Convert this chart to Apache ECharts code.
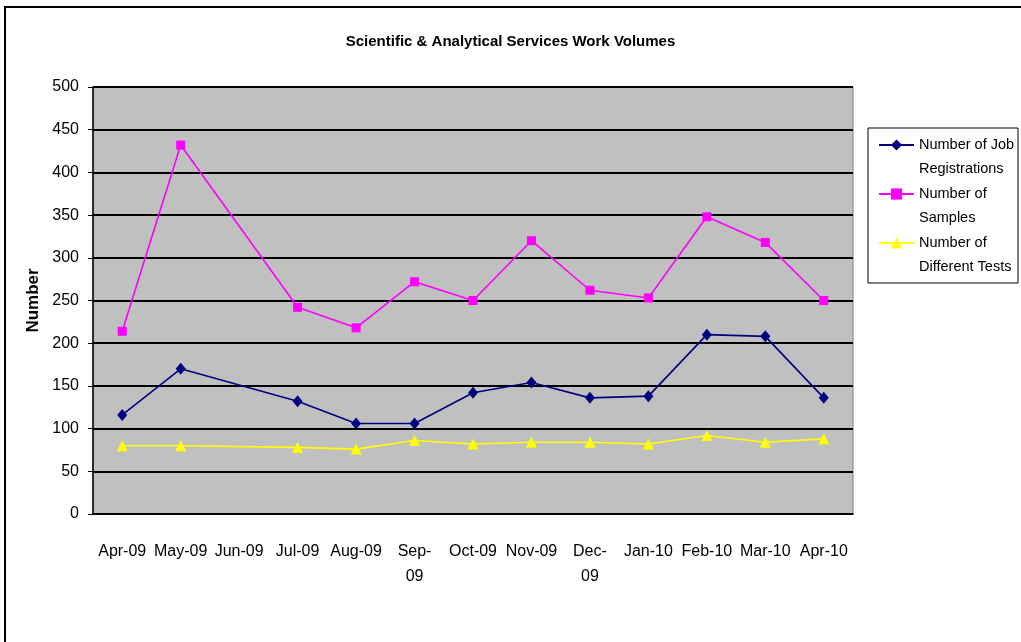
<!DOCTYPE html>
<html>
<head>
<meta charset="utf-8">
<script src="https://cdn.jsdelivr.net/npm/echarts@6/dist/echarts.min.js"></script>
<style>
  html, body { margin: 0; padding: 0; background: #fff; }
  #chart { width: 1021px; height: 642px; }
</style>
</head>
<body>
<div id="chart"></div>
<script>
const categories = ['Apr-09', 'May-09', 'Jun-09', 'Jul-09', 'Aug-09', 'Sep-09', 'Oct-09',
  'Nov-09', 'Dec-09', 'Jan-10', 'Feb-10', 'Mar-10', 'Apr-10']
const jobRegistrations = [116, 170, null, 132, 106, 106, 142, 154, 136, 138, 210, 208, 136]
const samples = [214, 432, null, 242, 218, 272, 250, 320, 262, 253, 348, 318, 250]
const differentTests = [80, 80, null, 78, 76, 86, 82, 84, 84, 82, 92, 84, 88]

const chart = echarts.init(document.getElementById('chart'))

const font = 'Liberation Sans, Arial, sans-serif'

function lineSeries(name, data, color, symbol, size) {
  return {
    name,
    type: 'line',
    data,
    connectNulls: true,
    symbol,
    symbolSize: size,
    showAllSymbol: true,
    lineStyle: { color, width: 1.6 },
    itemStyle: { color },
    emphasis: { disabled: true },
  }
}

chart.setOption({
  animation: false,
  textStyle: { fontFamily: font },
  title: {
    text: 'Scientific & Analytical Services Work Volumes',
    left: 'center',
    top: 29,
    textStyle: { fontSize: 15, fontWeight: 'bold', color: '#000', fontFamily: font },
  },
  graphic: [
    {
      type: 'rect',
      shape: { x: 5, y: 7, width: 1040, height: 660 },
      style: { fill: 'none', stroke: '#000', lineWidth: 2 },
      silent: true,
    },
    {
      type: 'rect',
      shape: { x: 868, y: 128, width: 150, height: 155 },
      style: { fill: '#fff', stroke: '#000', lineWidth: 1 },
      z: 0,
      silent: true,
    },
  ],
  grid: {
    left: 93,
    right: 168,
    top: 87,
    bottom: 128,
    show: true,
    backgroundColor: '#c0c0c0',
    borderColor: '#808080',
    borderWidth: 1,
  },
  legend: {
    orient: 'vertical',
    left: 878,
    top: 109,
    padding: 0,
    itemWidth: 35,
    itemHeight: 14,
    itemGap: -23,
    z: 5,
    // blank first line keeps the marker level with the first text line
    formatter: (n) => '\n' + n.replace(/^(Number of( Job)?) /, '$1\n'),
    textStyle: {
      fontSize: 14.5,
      lineHeight: 24,
      color: '#000',
      fontFamily: font,
    },
    data: ['Number of Job Registrations', 'Number of Samples', 'Number of Different Tests'],
  },
  xAxis: {
    type: 'category',
    data: categories,
    boundaryGap: true,
    axisLine: { lineStyle: { color: '#000', width: 1.5 } },
    axisTick: { length: 8, lineStyle: { color: '#000' } },
    axisLabel: {
      interval: 0,
      margin: 25,
      fontSize: 16,
      lineHeight: 25,
      color: '#000',
      fontFamily: font,
      formatter: (v) => (v === 'Sep-09' || v === 'Dec-09') ? v.replace('-', '-\n') : v,
    },
    splitLine: { show: false },
  },
  yAxis: {
    type: 'value',
    min: 0,
    max: 500,
    interval: 50,
    name: 'Number',
    nameLocation: 'middle',
    nameGap: 49,
    nameTextStyle: { fontSize: 17, fontWeight: 'bold', color: '#000', fontFamily: font },
    axisLine: { show: true, lineStyle: { color: '#000', width: 1.5 } },
    axisTick: { show: true, length: 5, lineStyle: { color: '#000' } },
    axisLabel: { fontSize: 16, margin: 14, color: '#000', fontFamily: font },
    splitLine: { lineStyle: { color: '#000', width: 2 } },
  },
  series: [
    lineSeries('Number of Job Registrations', jobRegistrations, '#000080', 'diamond', [10, 12]),
    lineSeries('Number of Samples', samples, '#ff00ff', 'rect', 9),
    lineSeries('Number of Different Tests', differentTests, '#ffff00', 'triangle', 11),
  ],
})
</script>
</body>
</html>
